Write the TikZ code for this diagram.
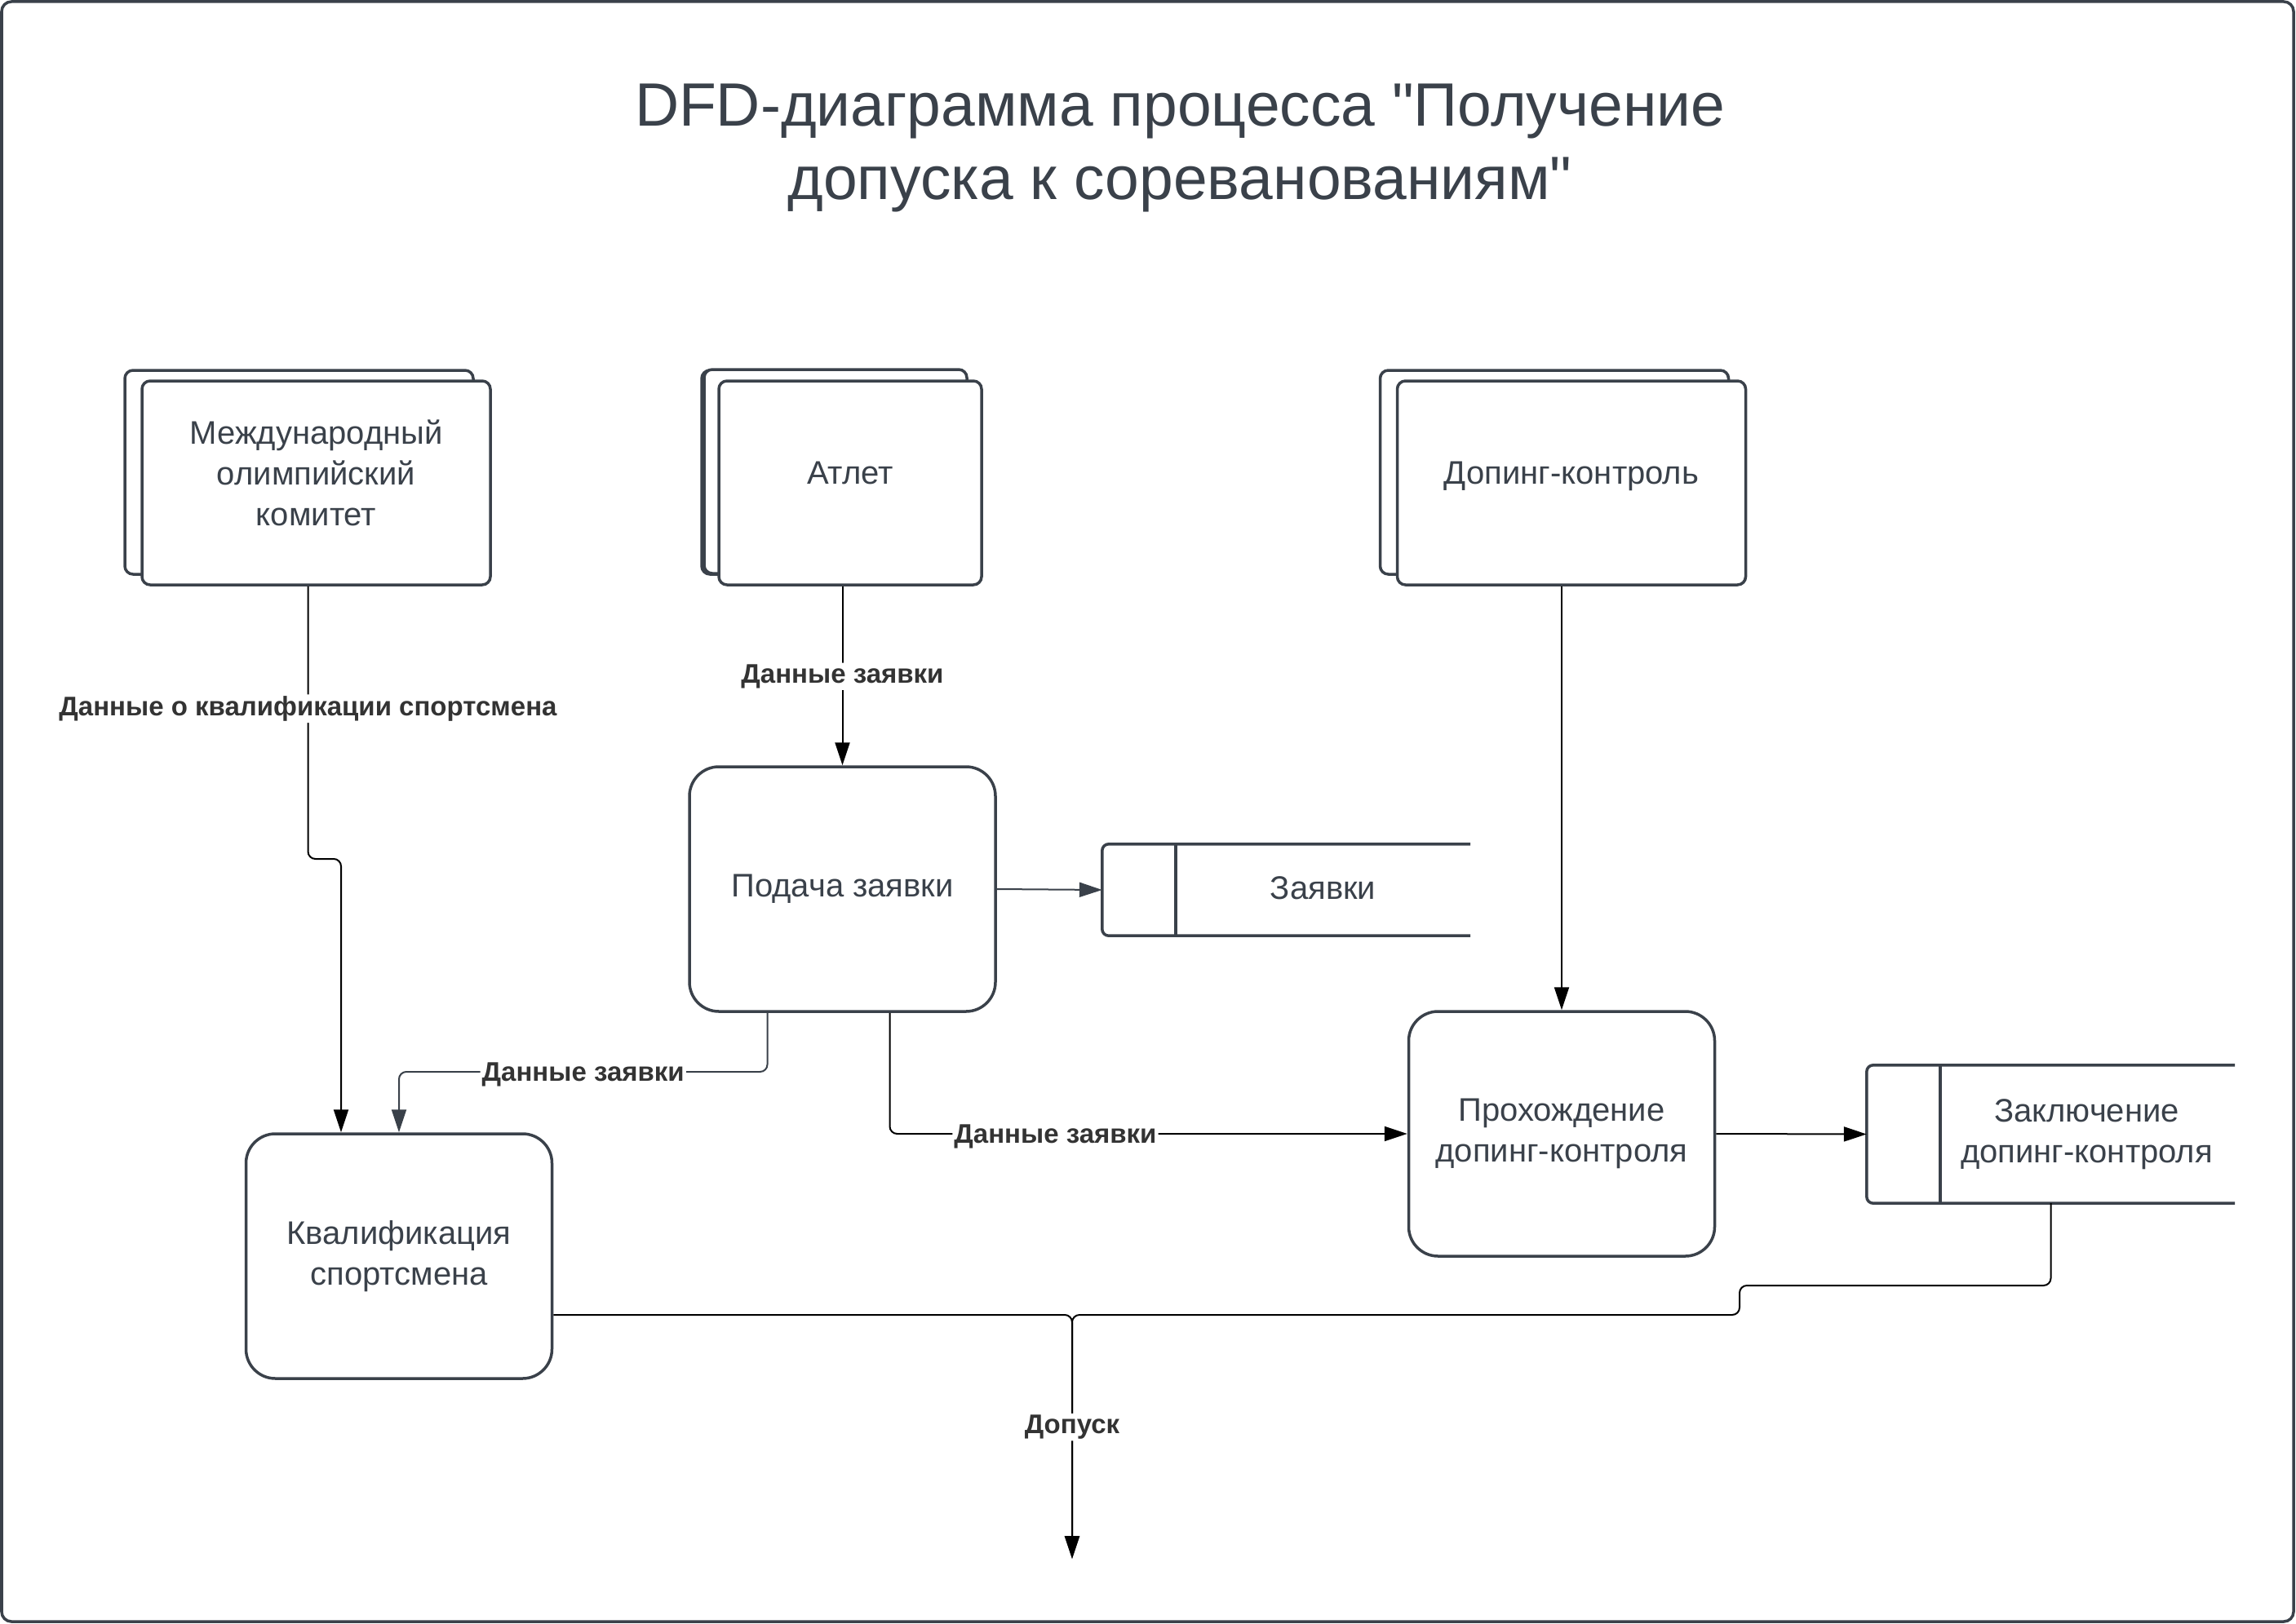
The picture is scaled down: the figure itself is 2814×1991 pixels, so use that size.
\documentclass[tikz,border=0pt]{standalone}
\usepackage{fontspec}
\setmainfont{Liberation Sans}[Ligatures=TeXOff]
\usetikzlibrary{arrows.meta,shadows,calc}
\definecolor{ink}{HTML}{3A414A}
\definecolor{lblc}{HTML}{333333}
\begin{document}
\begin{tikzpicture}[x=1pt,y=-1pt,
  entity/.style={draw=ink, line width=3.5pt, fill=white, rounded corners=10pt,
    minimum width=427pt, minimum height=250pt, text=ink, align=center,
    font=\fontsize{40}{50}\selectfont, text depth=24pt,
    general shadow={draw=ink, fill=white, line width=3.5pt, shadow xshift=-21pt, shadow yshift=13pt}},
  proc/.style={draw=ink, line width=3.5pt, rounded corners=36pt,
    minimum width=375pt, minimum height=300pt, text=ink, align=center,
    font=\fontsize{40}{50}\selectfont},
  store/.style={minimum width=451pt, inner sep=0pt},
  storeline/.style={draw=ink, line width=3.5pt, rounded corners=8pt},
  stext/.style={text=ink, align=center, font=\fontsize{40}{50}\selectfont},
  lbl/.style={fill=white, text=lblc, font=\bfseries\fontsize{33}{40}\selectfont, inner sep=2pt, yshift=-3pt},
  flow/.style={draw=black, line width=2pt, -{Triangle[length=28pt,width=18pt]}, rounded corners=9pt},
  gflow/.style={flow, draw=ink}
]
\useasboundingbox (0,0) rectangle (2814,1991);
\draw[ink, line width=3.5pt, rounded corners=12pt] (2,2) rectangle (2811,1988);

\node[text=ink, align=center, font=\fontsize{75}{90}\selectfont] (title) at (1446,181)
  {DFD-диаграмма процесса "Получение\\допуска к сореванованиям"};

% external entities
\node[entity] (mok) at (387.5,592) {Международный\\олимпийский\\комитет};
\node[entity, minimum width=322pt,
  general shadow={draw=ink, fill=white, line width=3.5pt, shadow xshift=-18pt, shadow yshift=14pt}]
  (atl) at (1042,592) {Атлет};
\node[entity] (dop) at (1926,592) {Допинг-контроль};

% processes
\node[proc] (pod) at (1032.5,1090) {Подача заявки};
\node[proc] (kval) at (489,1540) {Квалификация\\спортсмена};
\node[proc] (proh) at (1914,1390) {Прохождение\\допинг-контроля};

% data stores
\node[store, minimum height=112pt] (zay) at (1576.5,1091) {};
\draw[storeline] (zay.north east) -- (zay.north west) -- (zay.south west) -- (zay.south east);
\draw[storeline] ($(zay.north west)+(90,0)$) -- ($(zay.south west)+(90,0)$);
\node[stext] (zayt) at ($(zay.center)+(45,-2)$) {Заявки};

\node[store, minimum height=169pt] (zak) at (2513.5,1390.5) {};
\draw[storeline] (zak.north east) -- (zak.north west) -- (zak.south west) -- (zak.south east);
\draw[storeline] ($(zak.north west)+(90,0)$) -- ($(zak.south west)+(90,0)$);
\node[stext] (zakt) at ($(zak.center)+(44,0)$) {Заключение\\допинг-контроля};

% connectors
\coordinate (m1) at ($(mok.south)+(-10,0)$);
\coordinate (k1) at ($(kval.north)+(-71,0)$);
\draw[flow] (m1) -- node[lbl, pos=0.44] {Данные о квалификации спортсмена} (m1 |- 0,1053) -- (k1 |- 0,1053) -- (k1);

\draw[flow] (atl.south -| pod.north) -- node[lbl, pos=0.49] {Данные заявки} (pod.north);

\draw[gflow] (pod.east) -- (zay.west);

\coordinate (p1) at ($(pod.south)+(-92,0)$);
\draw[gflow] (p1) -- (p1 |- 0,1314) -- node[lbl, pos=0.5] {Данные заявки} (kval.north |- 0,1314) -- (kval.north);

\coordinate (p2) at ($(pod.south)+(58,0)$);
\draw[flow] (p2) -- (p2 |- proh.west) -- node[lbl, pos=0.32] {Данные заявки} (proh.west);

\draw[flow] (dop.south -| proh.north) -- (proh.north);
\draw[flow] (proh.east) -- (zak.west);

\coordinate (q) at ($(kval.east)+(0,72)$);
\coordinate (out) at (1314,1911);
\coordinate (j1) at (2132,1576);
\coordinate (j2) at (2132,1612);
\draw[flow] (zak.south) -- (zak.south |- j1) -- (j1) -- (j2) -- (out |- j2) -- (out);
\draw[flow] (q) -- (out |- q) -- node[lbl, pos=0.45] {Допуск} (out);
\end{tikzpicture}
\end{document}
